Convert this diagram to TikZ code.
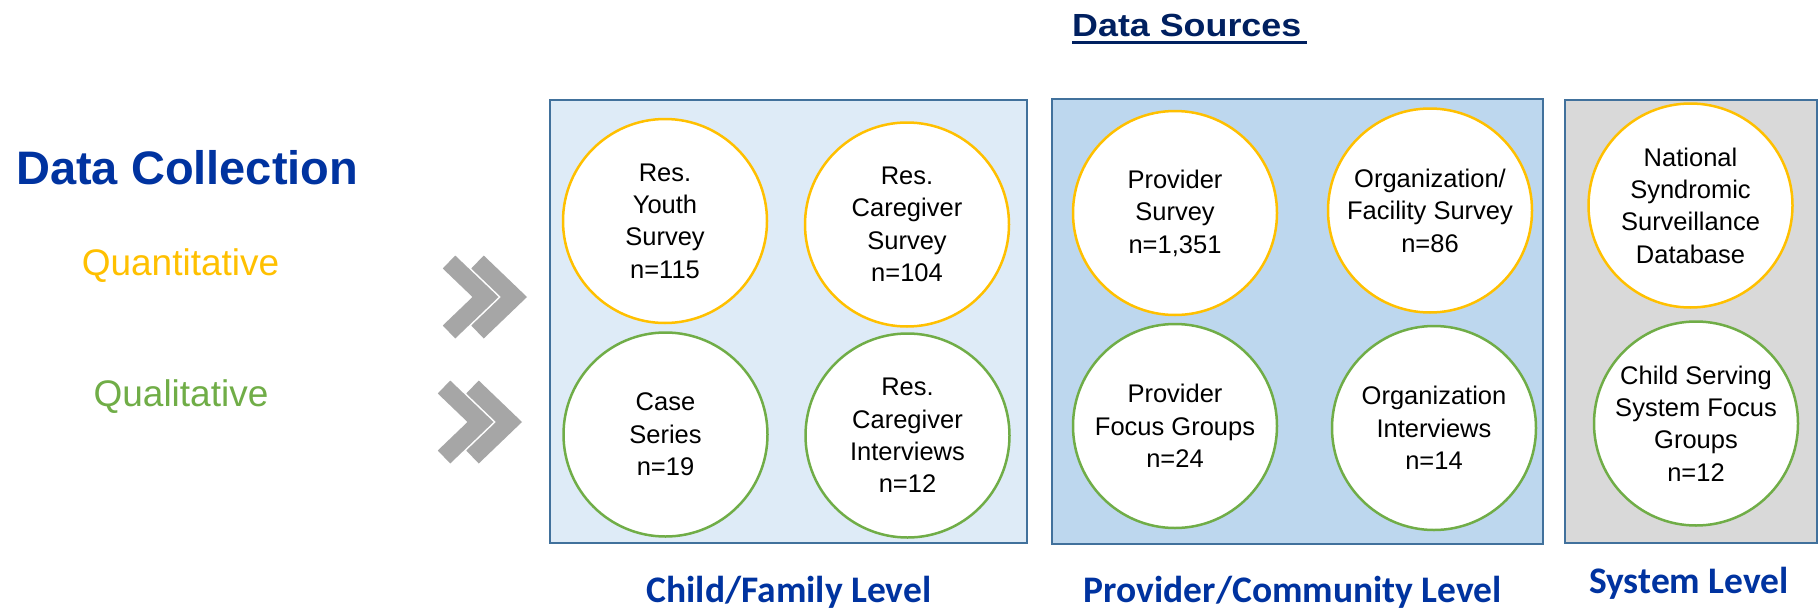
\documentclass[tikz,border=0pt]{standalone}
\usepackage{fontspec}
\setmainfont{Liberation Sans}
\newfontfamily\carl{Carlito}
\definecolor{dcblue}{HTML}{0033A0}
\definecolor{navy}{HTML}{002060}
\definecolor{gold}{HTML}{FFC000}
\definecolor{grn}{HTML}{70AD47}
\definecolor{bord}{HTML}{41719C}
\definecolor{fone}{HTML}{DEEBF7}
\definecolor{ftwo}{HTML}{BDD7EE}
\definecolor{fthree}{HTML}{D9D9D9}
\definecolor{chev}{HTML}{A6A6A6}
\tikzset{
  circ/.style={circle, draw, fill=white, line width=2.5pt, minimum size=204pt, inner sep=0pt, align=center, font=\fontsize{25.5}{32.4}\selectfont},
  quan/.style={circ, draw=gold},
  qual/.style={circ, draw=grn},
  panel/.style={draw=bord, line width=2pt, inner sep=0pt},
  levellabel/.style={anchor=base, inner sep=0pt, text=dcblue, font=\carl\bfseries\fontsize{37.5}{40}\selectfont},
  chevron/.style={draw=chev, line width=18pt, line join=miter, line cap=butt},
}
\begin{document}
\begin{tikzpicture}[x=1pt,y=-1pt]
\useasboundingbox (0,0) rectangle (1818,608);
\fill[white] (0,0) rectangle (1818,608);

% headings
\node (dc) [anchor=base west, inner sep=0pt, text=dcblue, font=\bfseries\fontsize{47}{50}\selectfont] at (16,184) {Data Collection};
\node (qn) [anchor=base, inner sep=0pt, text=gold, font=\fontsize{37}{40}\selectfont] at (180.5,275) {Quantitative};
\node (ql) [anchor=base, inner sep=0pt, text=grn, font=\fontsize{37}{40}\selectfont] at (181,406) {Qualitative};
\node (ds) [anchor=base west, inner sep=0pt, text=navy, font=\bfseries\fontsize{32}{34}\selectfont] at (1072,36) {\scalebox{1.12}[1]{Data Sources}};
\draw[navy, line width=3.2pt] ([yshift=-6.5pt]ds.base west) -- ([yshift=-6.5pt, xshift=6pt]ds.base east);

% chevrons
\draw[chevron] (449,262) -- (485.5,297) -- (449,332);
\draw[chevron] (477.5,262) -- (514,297) -- (477.5,332);
\draw[chevron] (444,387) -- (480.5,422) -- (444,457);
\draw[chevron] (472.5,387) -- (509,422) -- (472.5,457);

% panels
\node (p1) [panel, fill=fone, minimum width=477pt, minimum height=443pt] at (788.5,321.5) {};
\node (p2) [panel, fill=ftwo, minimum width=491pt, minimum height=445pt] at (1297.5,321.5) {};
\node (p3) [panel, fill=fthree, minimum width=252pt, minimum height=443pt] at (1691,321.5) {};

% circles panel 1
\node (c11) [quan] at (665,221) {Res.\\Youth\\Survey\\n=115};
\node (c12) [quan] at (907,224.5) {Res.\\Caregiver\\Survey\\n=104};
\node (c13) [qual] at (665.5,434.5) {Case\\Series\\n=19};
\node (c14) [qual] at (907.5,435.5) {Res.\\Caregiver\\Interviews\\n=12};

% circles panel 2
\node (c21) [quan] at (1175,213) {Provider\\Survey\\n=1,351};
\node (c22) [quan] at (1430,210.5) {Organization/\\Facility Survey\\n=86};
\node (c23) [qual] at (1175,426) {Provider\\Focus Groups\\n=24};
\node (c24) [qual] at (1434,428) {Organization\\Interviews\\n=14};

% circles panel 3
\node (c31) [quan] at (1690.5,205.5) {National\\Syndromic\\Surveillance\\Database};
\node (c32) [qual] at (1696,423.5) {Child Serving\\System Focus\\Groups\\n=12};

% level labels
\node (l1) [levellabel] at (789,602) {Child/Family Level};
\node (l2) [levellabel] at (1293,602) {Provider/Community Level};
\node (l3) [levellabel] at (1689,593) {System Level};
\end{tikzpicture}
\end{document}
